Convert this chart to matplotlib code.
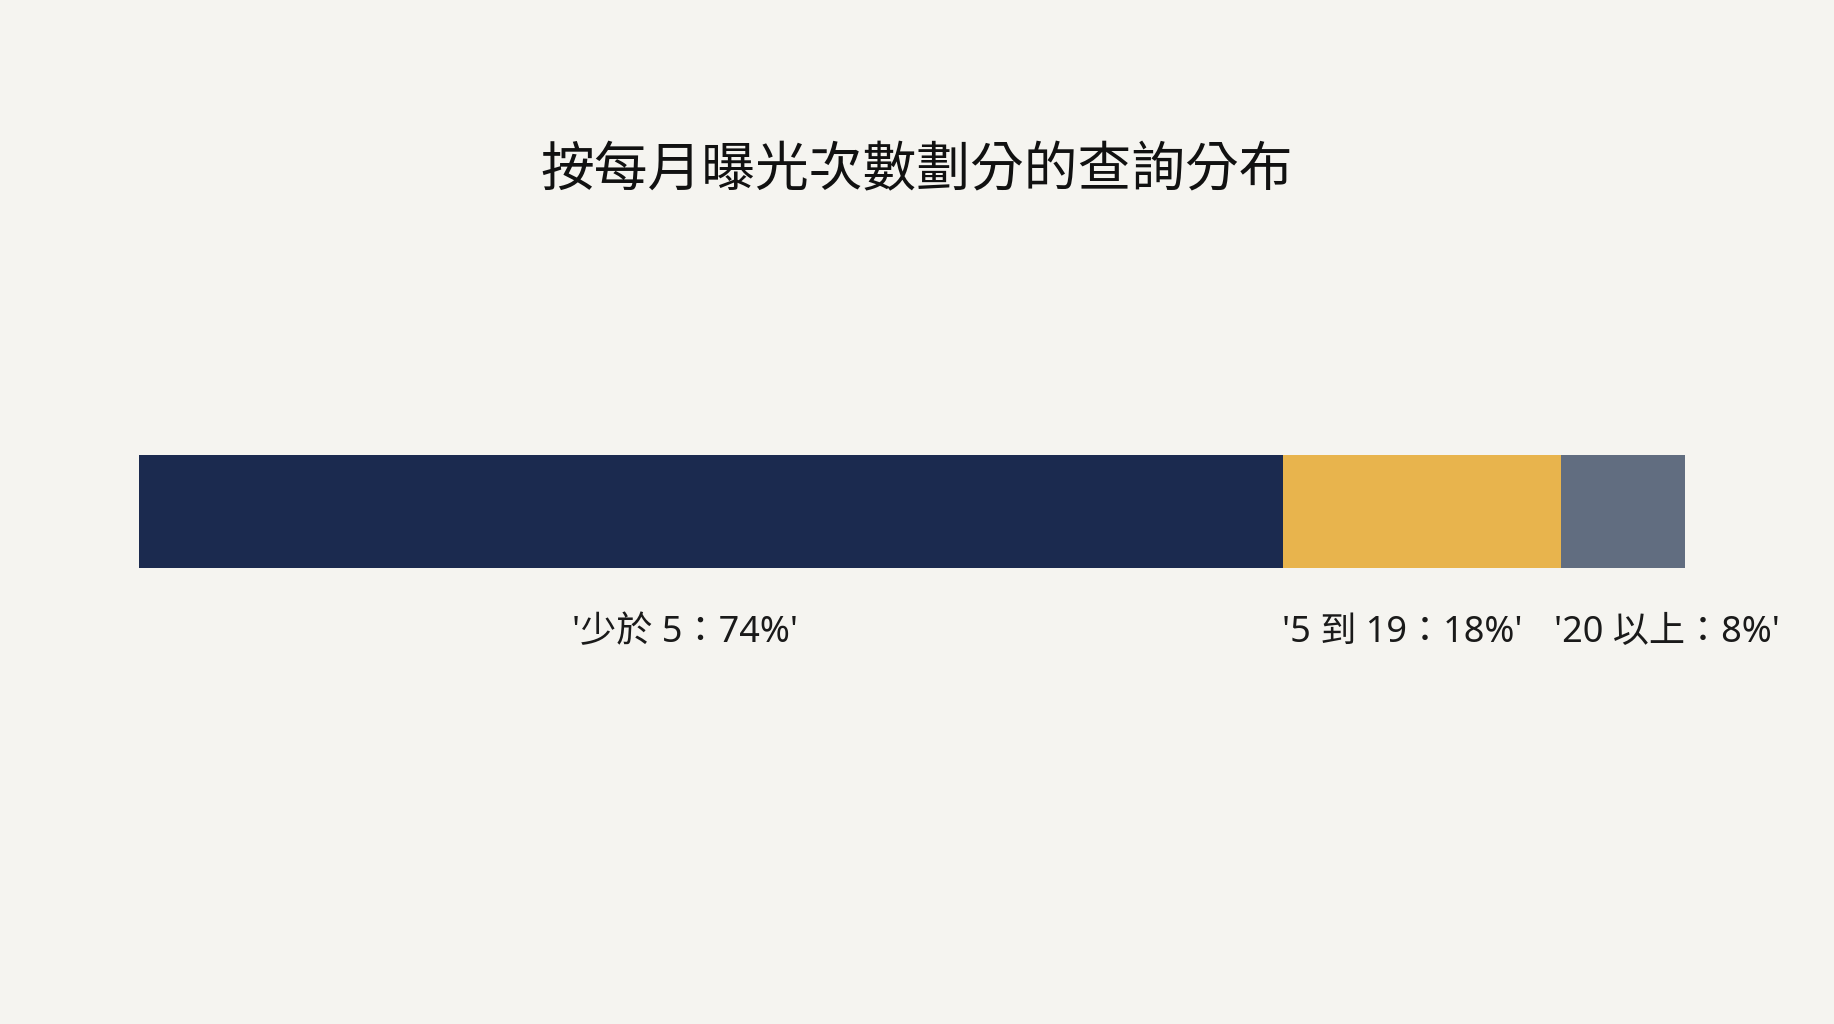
import matplotlib.pyplot as plt

plt.rcParams['font.family'] = ['Noto Sans CJK TC', 'DejaVu Sans']

# data
categories = ['少於 5', '5 到 19', '20 以上']
shares = [74, 18, 8]
colors = ['#1b2a4f', '#e8b44d', '#616d80']
title = '按每月曝光次數劃分的查詢分布'

bg = '#f5f4f0'

fig = plt.figure(figsize=(18.34, 10.24), dpi=100, facecolor=bg)
ax = fig.add_axes([0.0758, 0.4453, 0.843, 0.1104])
ax.set_facecolor(bg)

left = 0
centers = []
for cat, val, col in zip(categories, shares, colors):
    ax.barh(0, val, left=left, height=1.0, color=col, edgecolor='none')
    centers.append(left + val / 2)
    left += val

ax.set_xlim(0, 100)
ax.set_ylim(-0.5, 0.5)
ax.axis('off')

# labels below the bar, nudged so the last two do not crowd each other
label_shift = [-1.7, -1.3, 2.8]
for cat, val, c, s in zip(categories, shares, centers, label_shift):
    ax.annotate(f"'{cat}：{val}%'", xy=(c + s, -0.5), xytext=(0, -47),
                textcoords='offset points', ha='center', va='center',
                fontsize=26, color='#1a1a1a',
                family=['Noto Sans', 'Noto Sans CJK TC'])

fig.text(0.5, 1 - 171 / 1024, title, ha='center', va='center',
         fontsize=38.7, color='#111111')

fig.savefig('out.png', dpi=100, facecolor=bg)
